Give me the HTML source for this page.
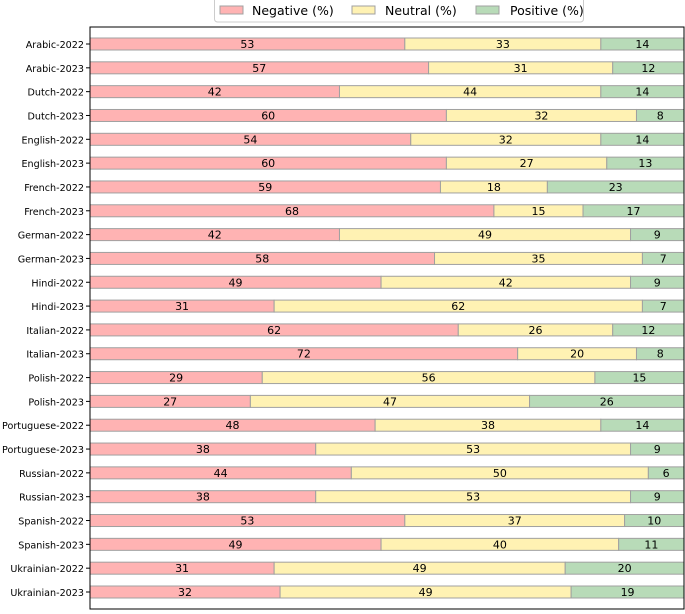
<!DOCTYPE html>
<html><head><meta charset="utf-8"><style>
body{margin:0;background:#fff;font-family:"DejaVu Sans","Liberation Sans",sans-serif;}
svg text{font-family:"DejaVu Sans","Liberation Sans",sans-serif;font-size:11px;fill:#000;}
</style></head><body>
<svg id="chart" width="685" height="610"></svg>
<script>
const categories=["Arabic-2022","Arabic-2023","Dutch-2022","Dutch-2023","English-2022","English-2023","French-2022","French-2023","German-2022","German-2023","Hindi-2022","Hindi-2023","Italian-2022","Italian-2023","Polish-2022","Polish-2023","Portuguese-2022","Portuguese-2023","Russian-2022","Russian-2023","Spanish-2022","Spanish-2023","Ukrainian-2022","Ukrainian-2023"];
const negative=[53,57,42,60,54,60,59,68,42,58,49,31,62,72,29,27,48,38,44,38,53,49,31,32];
const neutral=[33,31,44,32,32,27,18,15,49,35,42,62,26,20,56,47,38,53,50,53,37,40,49,49];
const positive=[14,12,14,8,14,13,23,17,9,7,9,7,12,8,15,26,14,9,6,9,10,11,20,19];
const seriesNames=["Negative (%)","Neutral (%)","Positive (%)"];
const NS="http://www.w3.org/2000/svg";
const svg=document.getElementById('chart');
const L=90,R=684,T=27,B=609;
const x=v=>L+v*(R-L)/100;
const y=i=>44+i*(592-44)/(categories.length-1);
const bh=12;
const colors=["#ffb3b3","#fff2b3","#b8dbb8"];
function mk(t,a){const e=document.createElementNS(NS,t);for(const k in a)e.setAttribute(k,a[k]);svg.appendChild(e);return e;}
const series=[negative,neutral,positive];
categories.forEach((c,i)=>{
  let acc=0;
  series.forEach((s,j)=>{
    const v=s[i];
    const r=mk('rect',{x:x(acc),y:y(i)-bh/2,width:x(acc+v)-x(acc),height:bh,fill:colors[j],stroke:'#a0a0a0','stroke-width':1});
    
    
    const t=mk('text',{x:x(acc+v/2),y:y(i)+4,'text-anchor':'middle'});
    t.textContent=v;
    
    
    acc+=v;
  });
  const tk=mk('line',{x1:L-4,x2:L,y1:y(i),y2:y(i),stroke:'#000'});
  
  
  const lb=mk('text',{x:L-6,y:y(i)+4,'text-anchor':'end'});
  lb.setAttribute('style','font-size:9.6px');
  lb.textContent=c;
  
  
});
const fr=mk('rect',{x:L,y:T,width:R-L,height:B-T,fill:'none',stroke:'#000','stroke-width':1});


const lg=mk('rect',{x:214.5,y:-3,width:369,height:25,rx:3,fill:'#fff',stroke:'#ccc'});


const hx=[220,352,476],tx=[252,385,510];
seriesNames.forEach((n,j)=>{
  const h=mk('rect',{x:hx[j],y:6,width:23,height:8,fill:colors[j],stroke:'#a0a0a0'});
  
  
  const t=mk('text',{x:tx[j],y:15});
  t.setAttribute('style','font-size:12.5px');
  t.textContent=n;
  
  
});
</script>
</body></html>
